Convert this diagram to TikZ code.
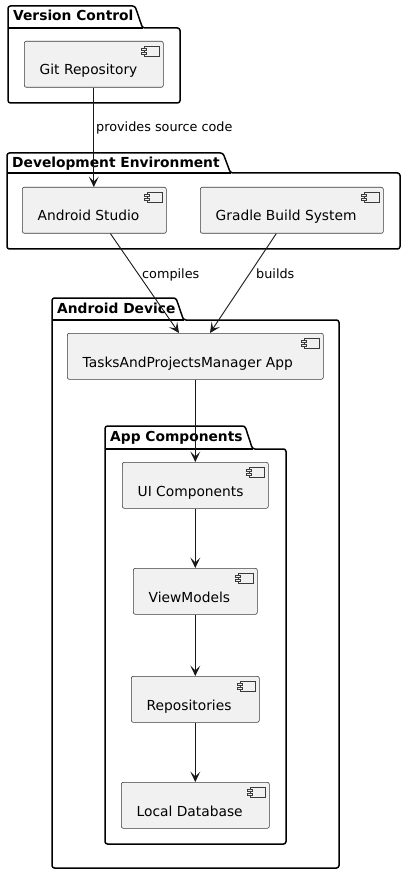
\documentclass[tikz,border=0pt]{standalone}
\usepackage{fontspec}
\setmainfont{DejaVu Sans}
\usetikzlibrary{arrows.meta}
\definecolor{compfill}{HTML}{F1F1F1}
\definecolor{lineclr}{HTML}{181818}
\tikzset{
  pkg/.style={draw=black, line width=1.5pt, rounded corners=2.5pt},
  comp/.style={draw=lineclr!85, fill=compfill, line width=0.6pt, rounded corners=2pt, anchor=north west, inner sep=0pt},
  icon/.style={draw=lineclr!85, fill=compfill, line width=0.5pt},
  ctext/.style={anchor=base west, inner sep=0pt, font=\fontsize{13.8}{16}\selectfont},
  ptitle/.style={anchor=base west, inner sep=0pt, font=\bfseries\fontsize{13.8}{16}\selectfont},
  elabel/.style={anchor=base west, inner sep=0pt, font=\fontsize{12.8}{15}\selectfont},
  arr/.style={draw=lineclr, line width=0.9pt, -{Stealth[length=10.5pt,width=10pt,inset=5pt]}}
}
\newcommand\mycomp[6]{%
  \node[comp, minimum width={(#4-#2)*1pt}, minimum height={(#5-#3)*1pt}] (#1) at (#2,#3) {};
  \node[ctext] (#1-t) at (#2+15.5,#3+34) {#6};
  \draw[icon] ([shift={(-19,5)}]#1.north east) rectangle ([shift={(-4,15)}]#1.north east);
  \draw[icon] ([shift={(-22,7)}]#1.north east) rectangle ([shift={(-17,9)}]#1.north east);
  \draw[icon] ([shift={(-22,11)}]#1.north east) rectangle ([shift={(-17,13)}]#1.north east);
}
\newcommand\mypkg[8]{%
  \draw[pkg] (#1,#4) -- (#1,#2) -- (#3,#2) -- (#3+7.5,#4) -- (#5,#4) -- (#5,#6) -- (#1,#6) -- cycle;
  \draw[pkg] (#1,#4) -- (#3+7.5,#4);
  \node[ptitle] (#8) at (#1+5,#2+15) {#7};
}
\begin{document}
\begin{tikzpicture}[x=1pt,y=-1pt]
  \useasboundingbox (0,0) rectangle (406,874);
  \fill[white] (0,0) rectangle (406,874);
  % packages
  \mypkg{8}{6}{135}{28}{180}{103}{Version Control}{pvc}
  \mypkg{7}{153}{223}{173}{400}{249}{Development Environment}{pdev}
  \mypkg{52}{298}{176}{320}{339}{868}{Android Device}{pad}
  \mypkg{105}{426}{245}{449}{286}{844}{App Components}{pac}
  % components
  \mycomp{git}{24}{41}{163}{87}{Git Repository}
  \mycomp{studio}{22}{187}{166}{233}{Android Studio}
  \mycomp{gradle}{200}{187}{383}{233}{Gradle Build System}
  \mycomp{tasks}{67}{333}{323}{379}{TasksAndProjectsManager App}
  \mycomp{ui}{122}{462}{268}{508}{UI Components}
  \mycomp{vm}{133}{568}{257}{614}{ViewModels}
  \mycomp{repo}{131}{676}{259}{722}{Repositories}
  \mycomp{db}{121}{782}{269}{828}{Local Database}
  % connectors
  \coordinate (tin1) at (179,333);
  \coordinate (tin2) at (210,333);
  \draw[arr] (git.south) -- (git.south |- studio.north);
  \draw[arr] (studio) -- (tin1);
  \draw[arr] (gradle) -- (tin2);
  \draw[arr] (tasks.south) -- (tasks.south |- ui.north);
  \draw[arr] (ui.south) -- (ui.south |- vm.north);
  \draw[arr] (vm.south) -- (vm.south |- repo.north);
  \draw[arr] (repo.south) -- (repo.south |- db.north);
  % labels
  \node[elabel] (l1) at (96,132) {provides source code};
  \node[elabel] (l2) at (142,278) {compiles};
  \node[elabel] (l3) at (256,278) {builds};
\end{tikzpicture}
\end{document}
